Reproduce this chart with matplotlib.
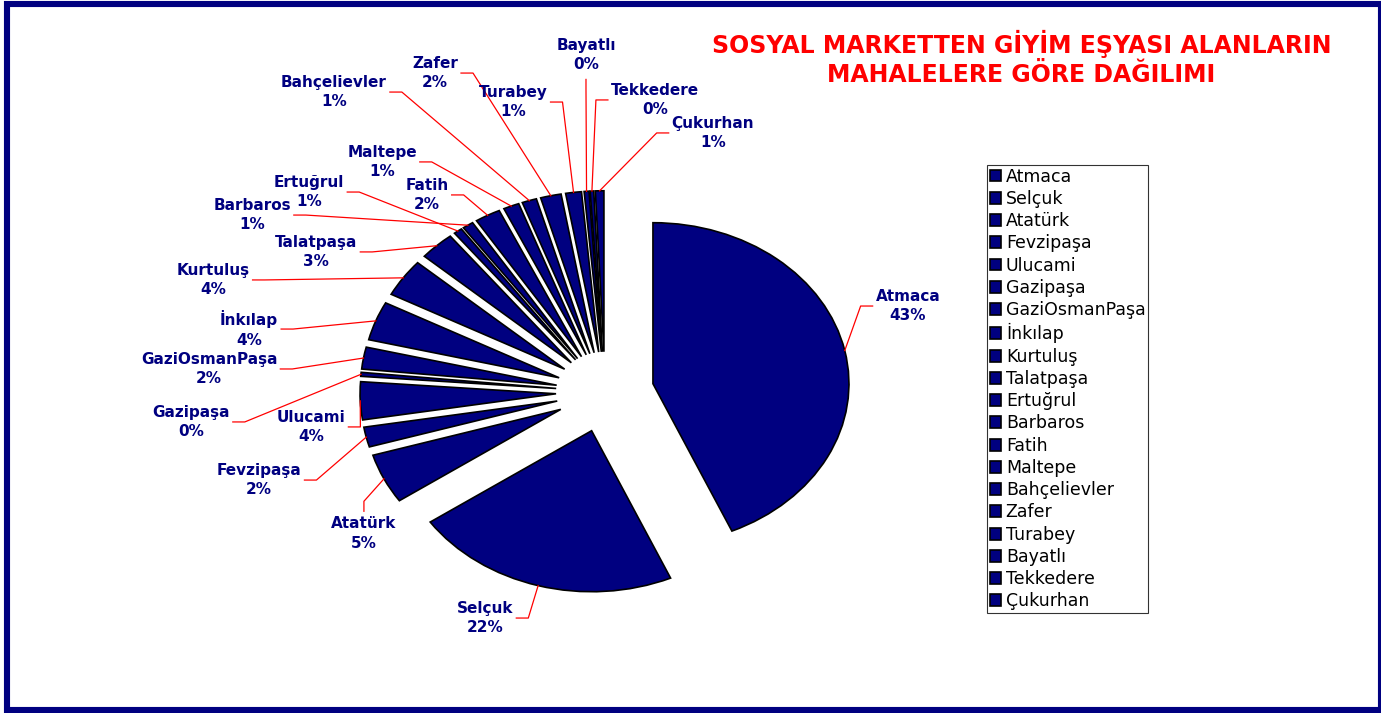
import numpy as np
import matplotlib.pyplot as plt
from matplotlib.patches import Rectangle

plt.rcParams["font.family"] = "DejaVu Sans"

NAVY = "#000080"

# share of clothing recipients per neighbourhood (%)
neighbourhoods = ["Atmaca", "Selçuk", "Atatürk", "Fevzipaşa", "Ulucami", "Gazipaşa",
                  "GaziOsmanPaşa", "İnkılap", "Kurtuluş", "Talatpaşa", "Ertuğrul",
                  "Barbaros", "Fatih", "Maltepe", "Bahçelievler", "Zafer", "Turabey",
                  "Bayatlı", "Tekkedere", "Çukurhan"]
shares = [43.4, 22.0, 5.0, 2.0, 3.8, 0.4, 2.2, 3.9, 3.8, 2.9,
          0.7, 0.9, 2.1, 1.3, 1.2, 1.7, 1.3, 0.4, 0.3, 0.7]
pct_labels = ["43%", "22%", "5%", "2%", "4%", "0%", "2%", "4%", "4%", "3%",
              "1%", "1%", "2%", "1%", "1%", "2%", "1%", "0%", "0%", "1%"]

# where the data labels sit (axes data units) and which side the leader enters
label_xy = [(1.546, 0.534), (-0.612, -1.404), (-1.230, -0.880), (-1.765, -0.547),
            (-1.500, -0.217), (-2.112, -0.186), (-2.020, 0.143), (-1.816, 0.391),
            (-2.000, 0.696), (-1.474, 0.870), (-1.510, 1.242), (-1.801, 1.099),
            (-0.908, 1.224), (-1.138, 1.429), (-1.383, 1.863), (-0.867, 1.981),
            (-0.469, 1.801), (-0.097, 2.093), (0.255, 1.814), (0.551, 1.609)]
label_side = ["left", "right", "top", "right", "right", "right", "right", "right",
              "right", "right", "right", "right", "right", "right", "right", "right",
              "right", "bottom", "left", "left"]

fig = plt.figure(figsize=(13.81, 7.13), dpi=100)
ax = fig.add_axes([213 / 1381, 63.4 / 713, 784 / 1381, 515.2 / 713])

n = len(shares)
wedges, _ = ax.pie(shares, explode=[0.25] * n, startangle=90, counterclock=False,
                   colors=[NAVY] * n,
                   wedgeprops=dict(edgecolor="black", linewidth=1.2))
ax.set_aspect("auto")
ax.set_xlim(-2, 2)
ax.set_ylim(-1.6, 1.6)
ax.axis("off")

texts = []
for i, (x, y) in enumerate(label_xy):
    t = ax.text(x, y, f"{neighbourhoods[i]}\n{pct_labels[i]}", ha="center", va="center",
                fontsize=11, fontweight="bold", color=NAVY, linespacing=1.4)
    texts.append(t)

# leader lines
fig.canvas.draw()
renderer = fig.canvas.get_renderer()
inv = ax.transData.inverted()
for w, t, side in zip(wedges, texts, label_side):
    th = np.deg2rad((w.theta1 + w.theta2) / 2)
    cx, cy = w.center
    start = ax.transData.transform((cx + w.r * np.cos(th), cy + w.r * np.sin(th)))
    bb = t.get_window_extent(renderer)
    mx, my = (bb.x0 + bb.x1) / 2, (bb.y0 + bb.y1) / 2
    if side == "left":
        end = (bb.x0 - 3, my); elbow = (end[0] - 12, my)
    elif side == "right":
        end = (bb.x1 + 3, my); elbow = (end[0] + 12, my)
    elif side == "top":
        end = (mx, bb.y1 + 5); elbow = (mx, end[1] + 10)
    else:
        end = (mx, bb.y0 - 7); elbow = (mx, end[1] - 10)
    pts = inv.transform([start, elbow, end])
    ax.plot(pts[:, 0], pts[:, 1], color="red", lw=0.9, clip_on=False)

leg = ax.legend(wedges, neighbourhoods, loc="upper left",
                bbox_to_anchor=(987 / 1381, 1 - 165 / 713), bbox_transform=fig.transFigure,
                fancybox=False, edgecolor="black", fontsize=12.5, handlelength=0.68,
                handleheight=0.68, labelspacing=0.245, borderpad=0.15, handletextpad=0.25,
                borderaxespad=0)
leg.get_frame().set_linewidth(0.8)

fig.text(1021.5 / 1381, 1 - 58.5 / 713,
         "SOSYAL MARKETTEN GİYİM EŞYASI ALANLARIN\nMAHALELERE GÖRE DAĞILIMI",
         ha="center", va="center", color="red", fontsize=17, fontweight="bold",
         linespacing=1.27)

# navy frame round the whole chart
fig.add_artist(Rectangle((7 / 1381, 3.5 / 713), 1374 / 1381, 705.5 / 713,
                         transform=fig.transFigure, fill=False, edgecolor=NAVY,
                         linewidth=4.4))

fig.savefig("out.png", dpi=100)
